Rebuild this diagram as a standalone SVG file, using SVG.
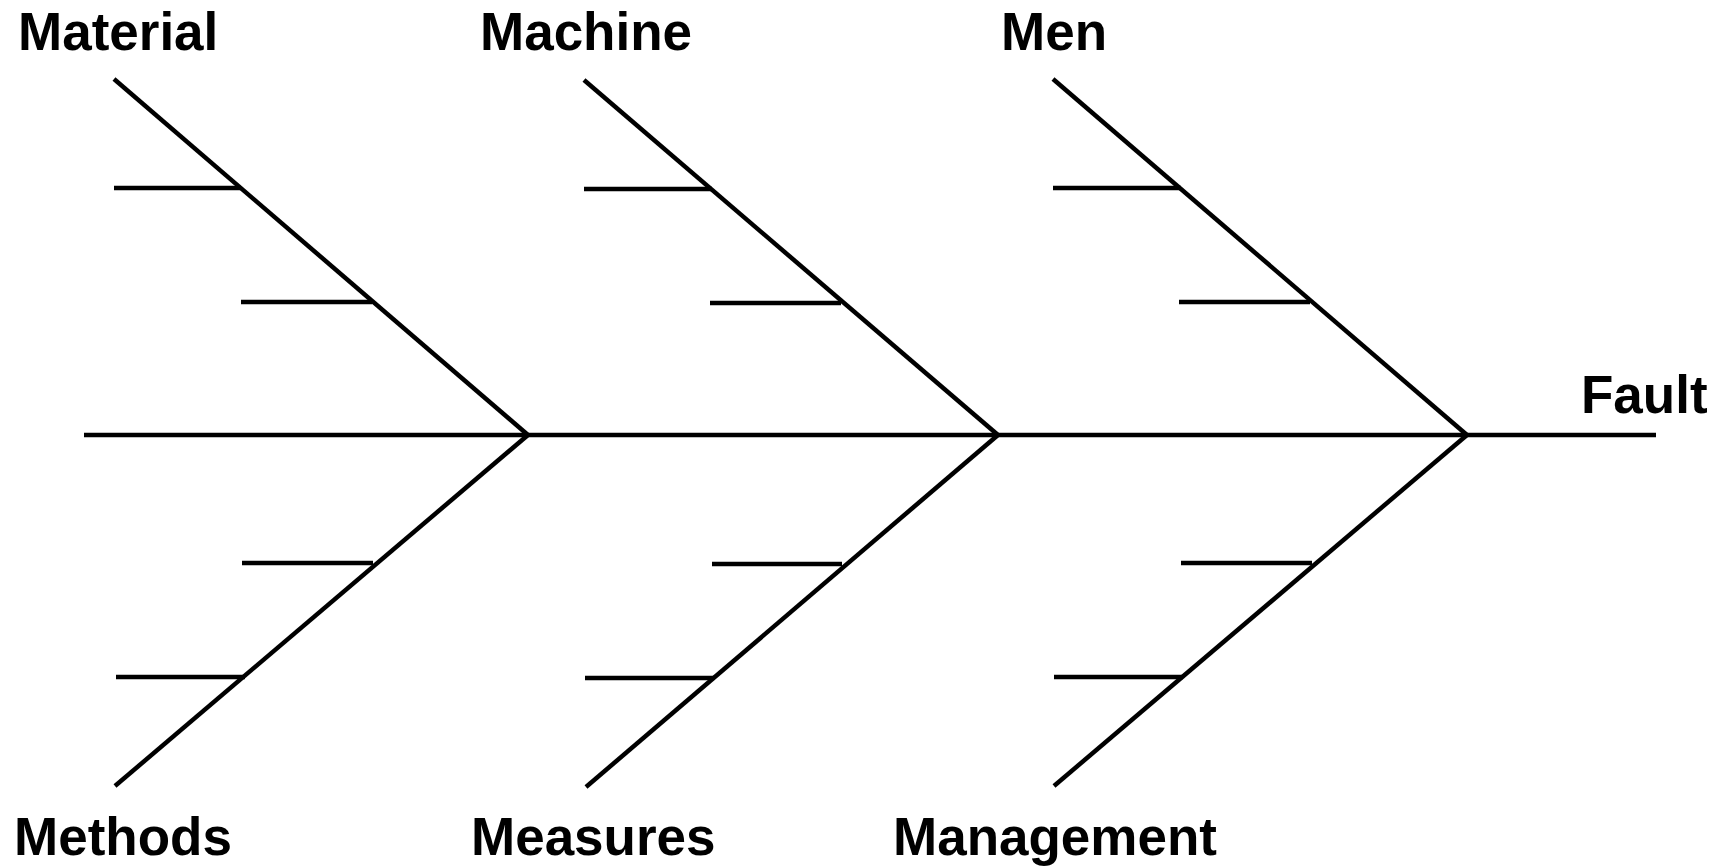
<svg xmlns="http://www.w3.org/2000/svg" width="1722" height="866" viewBox="0 0 1722 866">
<style>
line{stroke:#000;stroke-width:4.5;stroke-linecap:butt;fill:none}
text{font-family:"Liberation Sans",Arial,sans-serif;font-weight:bold;font-size:53px;fill:#000}
</style>
<rect width="1722" height="866" fill="#fff"/>
<g id="connectors">
<line x1="84" y1="435" x2="1656" y2="435"/>
<line x1="114" y1="79" x2="528" y2="435"/>
<line x1="114" y1="188" x2="241" y2="188"/>
<line x1="241" y1="302" x2="372" y2="302"/>
<line x1="115" y1="786" x2="528" y2="435"/>
<line x1="242" y1="563" x2="373" y2="563"/>
<line x1="116" y1="677" x2="245" y2="677"/>
<line x1="584" y1="80" x2="998" y2="435"/>
<line x1="584" y1="189" x2="712" y2="189"/>
<line x1="710" y1="303" x2="841" y2="303"/>
<line x1="586" y1="787" x2="998" y2="435"/>
<line x1="712" y1="564" x2="842" y2="564"/>
<line x1="585" y1="678" x2="714" y2="678"/>
<line x1="1053" y1="79" x2="1467" y2="435"/>
<line x1="1053" y1="188" x2="1181" y2="188"/>
<line x1="1179" y1="302" x2="1310" y2="302"/>
<line x1="1054" y1="786" x2="1467" y2="435"/>
<line x1="1181" y1="563" x2="1312" y2="563"/>
<line x1="1054" y1="677" x2="1183" y2="677"/>
</g>
<g id="material"><text x="18" y="50">Material</text></g>
<g id="machine"><text x="480" y="50">Machine</text></g>
<g id="men"><text x="1001" y="50">Men</text></g>
<g id="methods"><text x="14" y="855">Methods</text></g>
<g id="measures"><text x="471" y="855">Measures</text></g>
<g id="management"><text x="893" y="855">Management</text></g>
<g id="fault"><text x="1581" y="413">Fault</text></g>
</svg>
